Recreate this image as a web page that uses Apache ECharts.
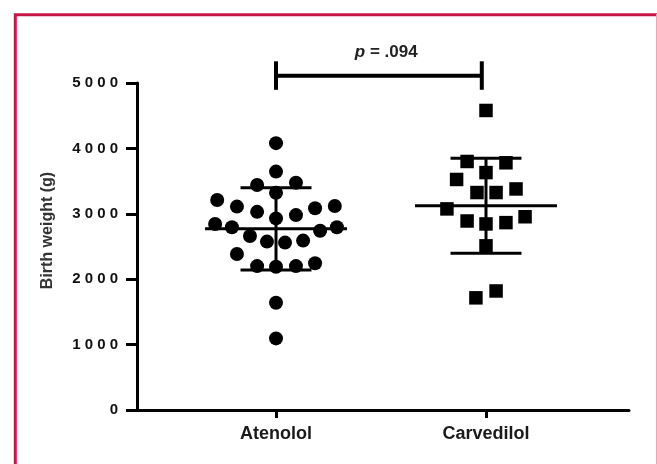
<!DOCTYPE html>
<html><head><meta charset="utf-8">
<script src="https://cdn.jsdelivr.net/npm/echarts@6/dist/echarts.min.js"></script>
<style>html,body{margin:0;padding:0;background:#fff}#c{width:657px;height:464px}</style>
</head><body><div id="c"></div>
<script>
// ---- data ----
const categories = ['Atenolol', 'Carvedilol'];
const categoryPositions = [1, 2];
const atenololWeights = [4080, 3645, 3440, 3475, 3320, 3210, 3110, 3030, 2930, 2980, 3085, 3120, 2845, 2795, 2740, 2795, 2660, 2575, 2560, 2590, 2385, 2200, 2190, 2200, 2245, 1640, 1095];
const atenololJitter = [0, 0, -0.09, 0.095, 0, -0.28, -0.186, -0.09, 0, 0.095, 0.186, 0.28, -0.29, -0.21, 0.21, 0.29, -0.124, -0.043, 0.043, 0.129, -0.186, -0.09, 0, 0.095, 0.186, 0, 0];
const carvedilolWeights = [4580, 3800, 3780, 3630, 3525, 3325, 3325, 3380, 3075, 2890, 2845, 2865, 2955, 2510, 1715, 1820];
const carvedilolJitter = [0, -0.09, 0.095, 0, -0.14, -0.043, 0.048, 0.143, -0.186, -0.09, 0, 0.095, 0.186, 0, -0.048, 0.048];
const groupMeans = [2770, 3122];
const groupSDs = [629, 726];
const yTickValues = [0, 1000, 2000, 3000, 4000, 5000];
const bracketSpan = [1, 1.98];
const bracketLevel = 5110;
const bracketLabelX = 1.525;
const pValueText = '.094';

// ---- build ----
const font = "'Liberation Sans', Arial, Helvetica, sans-serif";
const atenololPts = atenololWeights.map((v, i) => [categoryPositions[0] + atenololJitter[i], v]);
const carvedilolPts = carvedilolWeights.map((v, i) => [categoryPositions[1] + carvedilolJitter[i], v]);
const statData = categoryPositions.map((x, i) => [x, groupMeans[i], groupSDs[i]]);

const chart = echarts.init(document.getElementById('c'), null, {renderer: 'canvas'});
function seg(a, b, w) {
  return {type: 'line', shape: {x1: a[0], y1: a[1], x2: b[0], y2: b[1]}, style: {stroke: '#000', lineWidth: w}};
}
chart.setOption({
  animation: false,
  backgroundColor: '#fff',
  grid: {left: 137, right: 28, top: 83, bottom: 54, containLabel: false},
  xAxis: {
    type: 'value', min: 0.338, max: 2.681,
    splitLine: {show: false},
    axisLine: {show: true, lineStyle: {color: '#000', width: 3}},
    axisTick: {show: true, length: 8, lineStyle: {color: '#000', width: 3}, customValues: categoryPositions},
    axisLabel: {
      customValues: categoryPositions,
      formatter: v => categories[categoryPositions.indexOf(Math.round(v))] || '',
      fontFamily: font, fontWeight: 'bold', fontSize: 18, color: '#1a1a1a', margin: 15
    }
  },
  yAxis: {
    type: 'value', min: 0, max: 5000, interval: 1000,
    splitLine: {show: false},
    axisLine: {show: true, lineStyle: {color: '#000', width: 3}},
    axisTick: {show: true, length: 11, lineStyle: {color: '#000', width: 3}},
    axisLabel: {
      formatter: v => String(v).split('').join(' '),
      fontFamily: font, fontWeight: 'bold', fontSize: 15, color: '#111', margin: 19
    },
    name: 'Birth weight (g)',
    nameLocation: 'middle', nameGap: 81,
    nameTextStyle: {fontFamily: font, fontWeight: 'bold', fontSize: 16, color: '#333', padding: [0, 0, 0, 32]}
  },
  graphic: [
    {type: 'polyline', shape: {points: [[15.3, 464], [15.3, 14.7], [657, 14.7]]}, style: {stroke: '#c8164b', lineWidth: 3, fill: null}, z: 100},
    {type: 'line', shape: {x1: 656.5, y1: 14, x2: 656.5, y2: 464}, style: {stroke: '#eea3ba', lineWidth: 1}, z: 100}
  ],
  series: [
    {
      type: 'custom', z: 2, clip: false,
      data: statData,
      renderItem: (params, api) => {
        const x = api.value(0), m = api.value(1), s = api.value(2);
        const c = (a, b) => api.coord([a, b]);
        return {type: 'group', children: [
          seg(c(x - 0.338, m), c(x + 0.338, m), 3),
          seg(c(x - 0.169, m + s), c(x + 0.169, m + s), 3),
          seg(c(x - 0.169, m - s), c(x + 0.169, m - s), 3),
          seg(c(x, m + s), c(x, m - s), 3)
        ]};
      }
    },
    {
      type: 'custom', z: 2, clip: false,
      data: [[bracketSpan[0], bracketSpan[1], bracketLevel, bracketLabelX]],
      renderItem: (params, api) => {
        const a = api.coord([api.value(0), api.value(2)]);
        const b = api.coord([api.value(1), api.value(2)]);
        const t = api.coord([api.value(3), api.value(2)]);
        return {type: 'group', children: [
          seg(a, b, 4),
          seg([a[0], a[1] - 14.5], [a[0], a[1] + 14], 4),
          seg([b[0], b[1] - 14.5], [b[0], b[1] + 14], 4),
          {type: 'text', style: {
            x: t[0], y: t[1] - 23, align: 'center', verticalAlign: 'middle',
            text: '{i|p} {n|= ' + pValueText + '}',
            rich: {
              i: {fontFamily: font, fontStyle: 'italic', fontWeight: 'bold', fontSize: 17, fill: '#222'},
              n: {fontFamily: font, fontWeight: 'bold', fontSize: 17, fill: '#222'}
            },
            fontFamily: font, fontSize: 17, fontWeight: 'bold', fill: '#222'
          }}
        ]};
      }
    },
    {type: 'scatter', name: categories[0], data: atenololPts, symbol: 'circle', symbolSize: 14, itemStyle: {color: '#000', opacity: 1}, z: 5},
    {type: 'scatter', name: categories[1], data: carvedilolPts, symbol: 'rect', symbolSize: 13.5, itemStyle: {color: '#000', opacity: 1}, z: 5}
  ]
});
</script></body></html>
